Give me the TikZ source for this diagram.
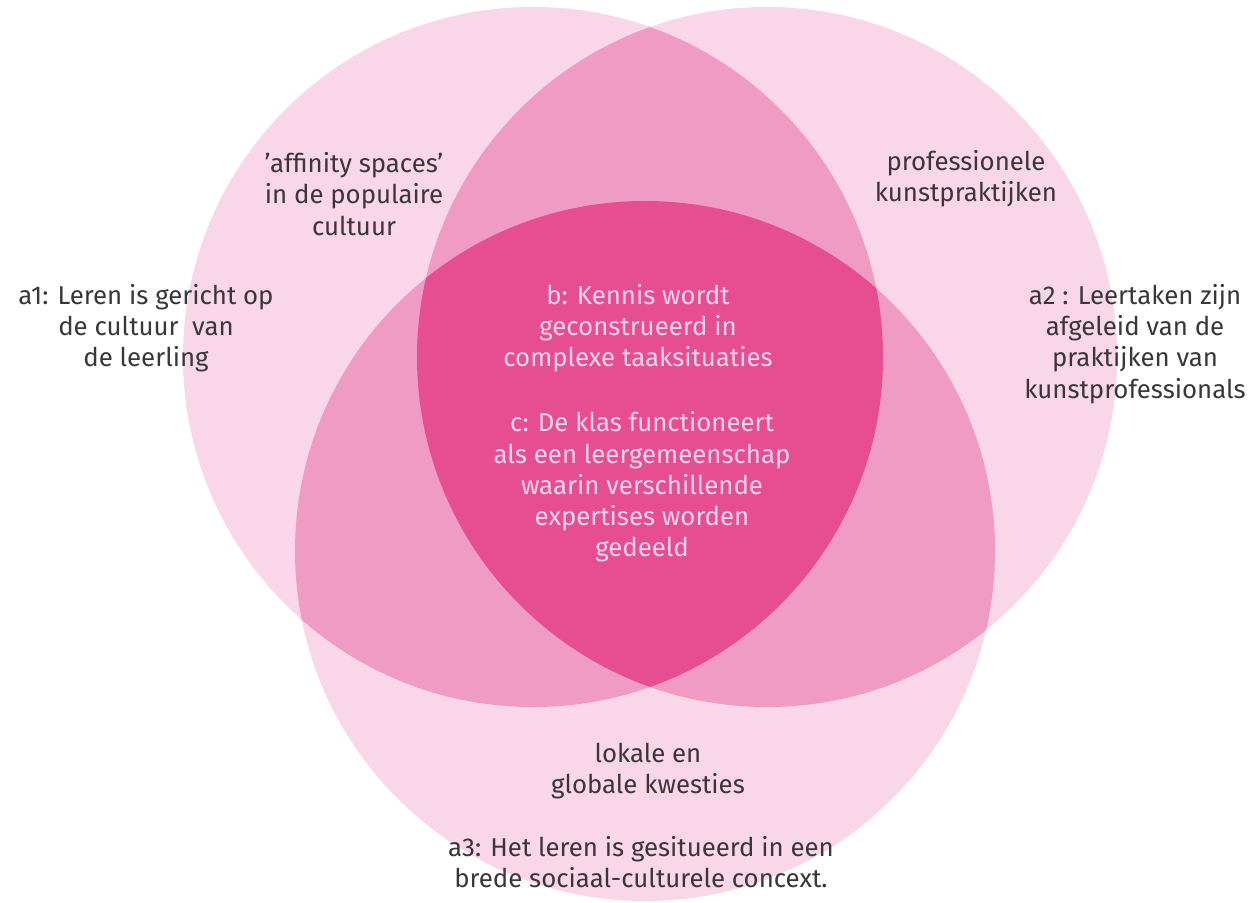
\documentclass[tikz,border=0pt]{standalone}
\usepackage{fontspec}
\setmainfont{Fira Sans}
\definecolor{lightpink}{RGB}{249,214,232}
\definecolor{midpink}{RGB}{240,155,196}
\definecolor{darkpink}{RGB}{231,78,145}
\definecolor{txtgrey}{RGB}{58,54,58}
\definecolor{txtlight}{RGB}{250,214,232}
\begin{document}
\begin{tikzpicture}[x=0.5pt,y=-0.5pt,
  lbl/.style={align=center,text=txtgrey,font=\fontsize{12.9}{15.6}\selectfont,inner sep=0pt},
  inlbl/.style={lbl,text=txtlight}]
\path[use as bounding box,fill=white] (0,0) rectangle (1251,903);
\def\cL{(533,357) circle[radius=175pt]}
\def\cR{(767,357) circle[radius=175pt]}
\def\cB{(645,551) circle[radius=175pt]}
% single circles
\fill[lightpink] \cL;
\fill[lightpink] \cR;
\fill[lightpink] \cB;
% pairwise overlaps
\begin{scope}\clip \cL; \fill[midpink] \cR; \end{scope}
\begin{scope}\clip \cL; \fill[midpink] \cB; \end{scope}
\begin{scope}\clip \cR; \fill[midpink] \cB; \end{scope}
% triple overlap
\begin{scope}\clip \cL; \clip \cR; \fill[darkpink] \cB; \end{scope}
% labels
\node[lbl] (aff) at (354,194) {'affinity spaces'\\in de populaire\\cultuur};
\node[lbl] (prof) at (966,179) {professionele\\kunstpraktijken};
\node[lbl] (a1) at (146,328) {a1: Leren is gericht op\\de cultuur\ \ van\\de leerling};
\node[lbl] (a2) at (1135,344) {a2 : Leertaken zijn\\afgeleid van de\\praktijken van\\kunstprofessionals};
\node[inlbl] (b) at (638,328) {b: Kennis wordt\\geconstrueerd in\\complexe taaksituaties};
\node[inlbl] (c) at (642,487) {c: De klas functioneert\\als een leergemeenschap\\waarin verschillende\\expertises worden\\gedeeld};
\node[lbl] (lok) at (648,771) {lokale en\\globale kwesties};
\node[lbl] (a3) at (641,862) {a3: Het leren is gesitueerd in een\\brede sociaal-culturele concext.};
\end{tikzpicture}
\end{document}
